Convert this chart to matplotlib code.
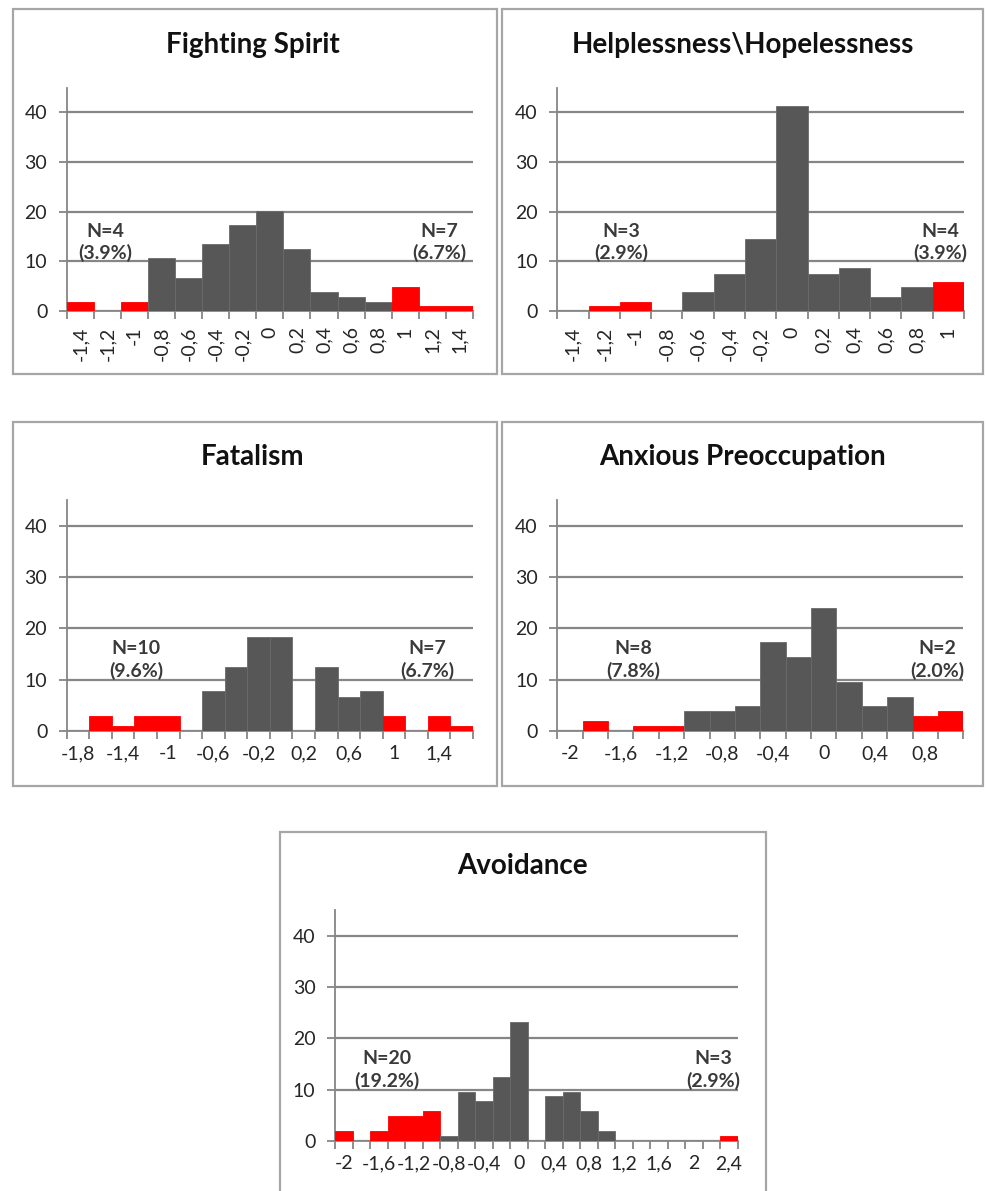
import matplotlib
matplotlib.use("Agg")
import matplotlib.pyplot as plt
from matplotlib.patches import Rectangle
from matplotlib.transforms import blended_transform_factory

plt.rcParams['font.family'] = ['Lato', 'DejaVu Sans']

# ---------------- data (percent of patients per bin) ----------------
fs_labels = ['-1,4', '-1,2', '-1', '-0,8', '-0,6', '-0,4', '-0,2', '0', '0,2',
             '0,4', '0,6', '0,8', '1', '1,2', '1,4']
fs_values = [1.9, 0, 1.9, 10.6, 6.7, 13.5, 17.3, 20.2, 12.5, 3.8, 2.9, 1.9, 4.8, 1.0, 1.0]
fs_red = [1, 1, 1, 0, 0, 0, 0, 0, 0, 0, 0, 0, 1, 1, 1]

hh_labels = ['-1,4', '-1,2', '-1', '-0,8', '-0,6', '-0,4', '-0,2', '0', '0,2',
             '0,4', '0,6', '0,8', '1']
hh_values = [0, 1.0, 1.9, 0, 3.8, 7.5, 14.4, 41.3, 7.5, 8.7, 2.9, 4.8, 5.8]
hh_red = [1, 1, 1, 0, 0, 0, 0, 0, 0, 0, 0, 0, 1]

fa_labels = ['-1,8', '-1,6', '-1,4', '-1,2', '-1', '-0,8', '-0,6', '-0,4', '-0,2',
             '0', '0,2', '0,4', '0,6', '0,8', '1', '1,2', '1,4', '1,6']
fa_values = [0, 2.9, 1.0, 2.9, 2.9, 0, 7.7, 12.5, 18.3, 18.3, 0, 12.5, 6.7, 7.7,
             2.9, 0, 2.9, 1.0]
fa_red = [1, 1, 1, 1, 1, 1, 0, 0, 0, 0, 0, 0, 0, 0, 1, 1, 1, 1]

ap_labels = ['-2', '-1,8', '-1,6', '-1,4', '-1,2', '-1', '-0,8', '-0,6', '-0,4',
             '-0,2', '0', '0,2', '0,4', '0,6', '0,8', '1']
ap_values = [0, 1.9, 0, 1.0, 1.0, 3.8, 3.8, 4.8, 17.3, 14.4, 24.0, 9.6, 4.8, 6.7, 2.9, 3.8]
ap_red = [1, 1, 1, 1, 1, 0, 0, 0, 0, 0, 0, 0, 0, 0, 1, 1]

av_labels = ['-2', '-1,8', '-1,6', '-1,4', '-1,2', '-1', '-0,8', '-0,6', '-0,4',
             '-0,2', '0', '0,2', '0,4', '0,6', '0,8', '1', '1,2', '1,4', '1,6',
             '1,8', '2', '2,2', '2,4']
av_values = [1.9, 0, 1.9, 4.8, 4.8, 5.8, 1.0, 9.6, 7.7, 12.5, 23.1, 0, 8.7, 9.6,
             5.8, 1.9, 0, 0, 0, 0, 0, 0, 1.0]
av_red = [1, 1, 1, 1, 1, 1, 0, 0, 0, 0, 0, 0, 0, 0, 0, 0, 0, 0, 0, 0, 0, 0, 1]

titles = ['Fighting Spirit', 'Helplessness\\Hopelessness', 'Fatalism',
          'Anxious Preoccupation', 'Avoidance']
left_notes = ['N=4\n(3.9%)', 'N=3\n(2.9%)', 'N=10\n(9.6%)', 'N=8\n(7.8%)', 'N=20\n(19.2%)']
right_notes = ['N=7\n(6.7%)', 'N=4\n(3.9%)', 'N=7\n(6.7%)', 'N=2\n(2.0%)', 'N=3\n(2.9%)']

# ---------------- layout (pixel geometry) ----------------
W, H = 987, 1191
fig = plt.figure(figsize=(W / 100, H / 100), dpi=100)
fig.patch.set_facecolor('white')

ax_px = [(66.7, 473, 87.5, 311), (557.3, 964, 87.5, 311),
         (66.7, 473, 500, 731), (557.3, 963.3, 500, 731),
         (335, 737.7, 910, 1141)]
frame_px = [(12.6, 497, 9.3, 374), (502, 982.7, 9.3, 374),
            (12.6, 497, 421.7, 786), (502, 982.7, 421.7, 786),
            (280.5, 766, 831.7, 1200)]
title_px = [(253, 45), (742.5, 45), (253, 457), (742.5, 457), (522, 866)]
note_x = [(0.094, 0.918), (0.157, 0.941), (0.171, 0.887), (0.186, 0.937), (0.129, 0.94)]
rotated = [True, True, False, False, False]
label_step = [1, 1, 2, 2, 2]

datasets = [(fs_labels, fs_values, fs_red), (hh_labels, hh_values, hh_red),
            (fa_labels, fa_values, fa_red), (ap_labels, ap_values, ap_red),
            (av_labels, av_values, av_red)]

AXC = '#868686'
DARK = '#575757'
RED = '#ff0000'
TXT = '#262626'

for i, (labels, values, red) in enumerate(datasets):
    l, r, t, b = ax_px[i]
    ax = fig.add_axes([l / W, 1 - b / H, (r - l) / W, (b - t) / H])
    n = len(labels)
    x = list(range(n))
    colors = [RED if red[k] else DARK for k in range(n)]
    edges = [RED if red[k] else '#6a6a6a' for k in range(n)]
    ax.bar(x, values, width=1.0, color=colors, edgecolor=edges, linewidth=0.6, zorder=3)
    ax.set_xlim(-0.5, n - 0.5)
    ax.set_ylim(0, 45)
    ax.set_yticks([0, 10, 20, 30, 40])
    ax.yaxis.grid(True, color=AXC, linewidth=1.6, zorder=0)
    ax.set_axisbelow(True)
    for s in ['top', 'right']:
        ax.spines[s].set_visible(False)
    for s in ['left', 'bottom']:
        ax.spines[s].set_color(AXC)
        ax.spines[s].set_linewidth(1.3)
    ax.tick_params(axis='y', length=6, width=1.3, color=AXC, pad=8,
                   labelsize=14, labelcolor=TXT)
    ax.set_xticks(x[::label_step[i]])
    ax.set_xticklabels(labels[::label_step[i]], rotation=90 if rotated[i] else 0)
    ax.set_xticks([k - 0.5 for k in range(n + 1)], minor=True)
    ax.tick_params(axis='x', which='major', length=0, pad=11 if rotated[i] else 10,
                   labelsize=14, labelcolor=TXT)
    ax.tick_params(axis='x', which='minor', length=5.5, width=1.3, color=AXC)
    tr = blended_transform_factory(ax.transAxes, ax.transData)
    for xf, note in ((note_x[i][0], left_notes[i]), (note_x[i][1], right_notes[i])):
        ax.text(xf, 13.8, note, transform=tr, ha='center', va='center',
                fontsize=14, fontweight='bold', color='#3a3a3a',
                linespacing=1.3, zorder=5)

for i in range(5):
    x0, x1, y0, y1 = frame_px[i]
    fig.add_artist(Rectangle((x0 / W, 1 - y1 / H), (x1 - x0) / W, (y1 - y0) / H,
                             transform=fig.transFigure, fill=False,
                             edgecolor='#a6a6a6', linewidth=1.6))
    tx, ty = title_px[i]
    fig.text(tx / W, 1 - ty / H, titles[i], ha='center', va='center',
             fontsize=20, fontweight='bold', color='#111111')

fig.savefig('out.png', dpi=100, facecolor='white')
